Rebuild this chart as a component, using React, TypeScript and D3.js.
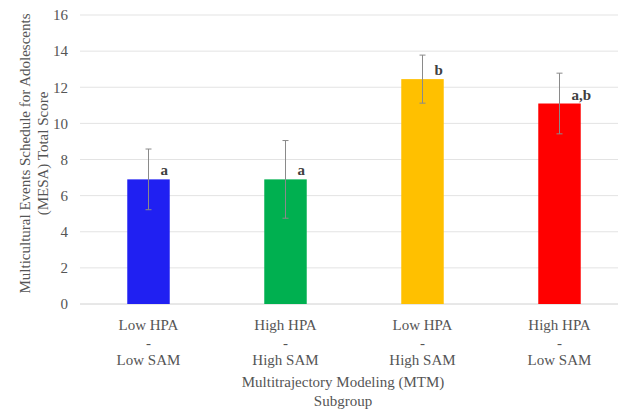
import * as d3 from "d3";

const groups = ["Low HPA|-|Low SAM", "High HPA|-|High SAM", "Low HPA|-|High SAM", "High HPA|-|Low SAM"];
const means = [6.9, 6.9, 12.45, 11.1];
const errors = [1.68, 2.15, 1.33, 1.68];
const letters = ["a", "a", "b", "a,b"];
const colors = ["#2020f2", "#00b050", "#ffc000", "#ff0000"];
const yTicks = [0, 2, 4, 6, 8, 10, 12, 14, 16];

const W = 618;
const H = 418;
const left = 80;
const right = 628;
const top = 15;
const bottom = 304;
const font = "'Liberation Serif', 'Times New Roman', serif";
const textColor = "#555555";

export default function App() {
  const x = d3.scaleBand<number>().domain(d3.range(groups.length)).range([left, right]).paddingInner(0.69).paddingOuter(0.345);
  const y = d3.scaleLinear().domain([0, 16]).range([bottom, top]);
  const bw = x.bandwidth();

  return (
    <svg width={W} height={H} style={{ position: "absolute", left: 0, top: 0, background: "#fff" }} fontFamily={font}>
      {yTicks.map((t) => (
        <g key={t}>
          <line x1={left} x2={W} y1={y(t)} y2={y(t)} stroke={t === 0 ? "#d0d0d0" : "#e3e3e3"} strokeWidth={1} />
          <text x={68} y={y(t)} dy="0.35em" textAnchor="end" fontSize={15} fill={textColor}>
            {t}
          </text>
        </g>
      ))}
      {means.map((m, i) => {
        const cx = x(i)! + bw / 2;
        return (
          <g key={i}>
            <rect x={x(i)} y={y(m)} width={bw} height={y(0) - y(m)} fill={colors[i]} />
            <line x1={cx} x2={cx} y1={y(m + errors[i])} y2={y(m - errors[i])} stroke="#8a8a8a" strokeWidth={1} />
            <line x1={cx - 3} x2={cx + 3} y1={y(m + errors[i])} y2={y(m + errors[i])} stroke="#8a8a8a" strokeWidth={1} />
            <line x1={cx - 3} x2={cx + 3} y1={y(m - errors[i])} y2={y(m - errors[i])} stroke="#8a8a8a" strokeWidth={1} />
            <text x={cx + 12} y={y(m) - 4} fontSize={15} fontWeight="bold" fill="#404040">
              {letters[i]}
            </text>
            {groups[i].split("|").map((line, j) => (
              <text key={j} x={cx} y={330 + j * 17.5} textAnchor="middle" fontSize={15} fill={textColor}>
                {line}
              </text>
            ))}
          </g>
        );
      })}
      <text x={343} y={387} textAnchor="middle" fontSize={15} fill={textColor}>
        Multitrajectory Modeling (MTM)
      </text>
      <text x={343} y={406} textAnchor="middle" fontSize={15} fill={textColor}>
        Subgroup
      </text>
      <g transform={`translate(30, ${(top + bottom) / 2 - 6}) rotate(-90)`}>
        <text x={0} y={0} textAnchor="middle" fontSize={15} fill={textColor}>
          Multicultural Events Schedule for Adolescents
        </text>
        <text x={0} y={18} textAnchor="middle" fontSize={15} fill={textColor}>
          (MESA) Total Score
        </text>
      </g>
    </svg>
  );
}
